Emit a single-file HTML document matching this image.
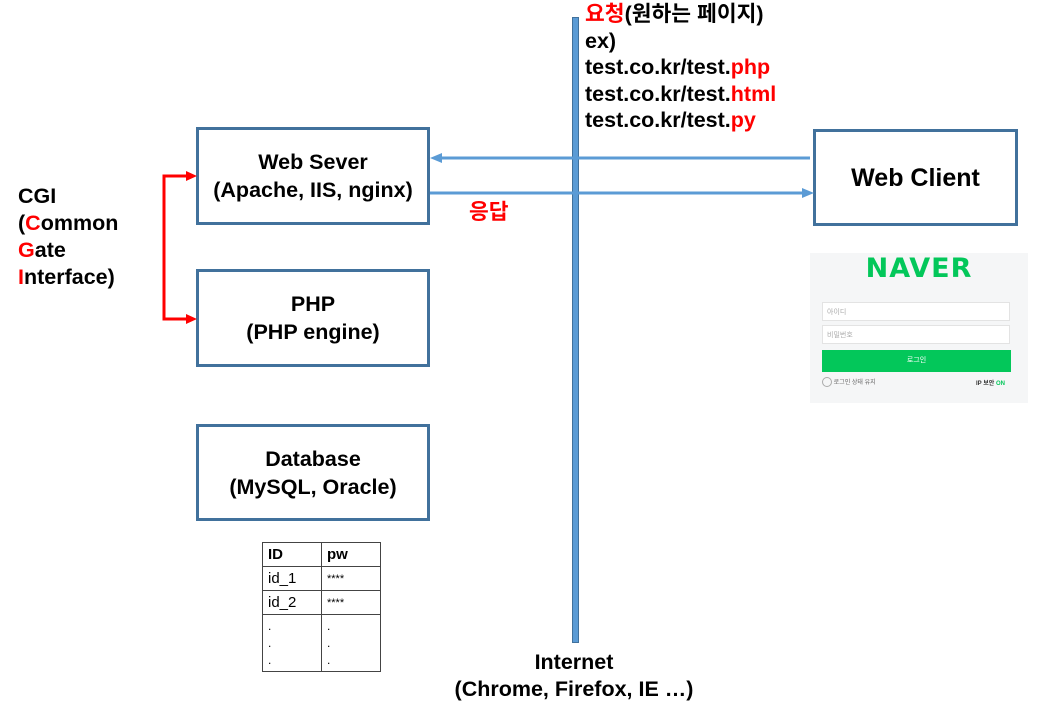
<!DOCTYPE html>
<html><head><meta charset="utf-8"><style>
body{margin:0;width:1059px;height:711px;background:#fff;position:relative;overflow:hidden;font-family:"Liberation Sans","Noto Sans CJK KR",sans-serif}
.box{position:absolute;box-sizing:border-box;border:3px solid #41719c;display:flex;align-items:center;justify-content:center;text-align:center;font-weight:bold;font-size:21.5px;line-height:28px;color:#000}
.t{position:absolute;font-weight:bold;font-size:21.5px;line-height:26.5px;color:#000;white-space:nowrap}
.r{color:#f00}
table{position:absolute;left:262px;top:542px;border-collapse:collapse;font-size:15px}
td{border:1.5px solid #444;padding:0 5px;height:23px;width:48px;vertical-align:middle}
</style></head><body>
<div class="box" style="left:196px;top:127px;width:234px;height:98px">Web Sever<br>(Apache, IIS, nginx)</div>
<div class="box" style="left:196px;top:269px;width:234px;height:98px">PHP<br>(PHP engine)</div>
<div class="box" style="left:196px;top:424px;width:234px;height:97px">Database<br>(MySQL, Oracle)</div>
<div class="box" style="left:813px;top:129px;width:205px;height:97px;font-size:25px">Web Client</div>
<div style="position:absolute;left:572px;top:17px;width:5px;height:624px;background:#5b9bd5;border:1px solid #41719c"></div>
<svg style="position:absolute;left:0;top:0" width="1059" height="711">
<line x1="810" y1="158" x2="440" y2="158" stroke="#5b9bd5" stroke-width="3"/>
<polygon points="430,158 442,153 442,163" fill="#5b9bd5"/>
<line x1="430" y1="193" x2="803" y2="193" stroke="#5b9bd5" stroke-width="3"/>
<polygon points="814,193 802,188 802,198" fill="#5b9bd5"/>
<polyline points="187,176 164,176 164,319 187,319" fill="none" stroke="#f00" stroke-width="3"/>
<polygon points="197,176 186,171 186,181" fill="#f00"/>
<polygon points="197,319 186,314 186,324" fill="#f00"/>
</svg>
<div class="t" style="left:585px;top:1px"><span class="r">요청</span>(원하는 페이지)<br>ex)<br>test.co.kr/test.<span class="r">php</span><br>test.co.kr/test.<span class="r">html</span><br>test.co.kr/test.<span class="r">py</span></div>
<div class="t r" style="left:469px;top:199px">응답</div>
<div class="t" style="left:18px;top:183px;line-height:27px">CGI<br>(<span class="r">C</span>ommon<br><span class="r">G</span>ate<br><span class="r">I</span>nterface)</div>
<div class="t" style="left:434px;top:649px;text-align:center;width:280px">Internet<br>(Chrome, Firefox, IE …)</div>
<div style="position:absolute;left:810px;top:253px;width:218px;height:150px;background:#f5f6f7">
<div style="position:absolute;left:0;width:218px;top:0px;text-align:center;font-weight:900;font-size:27px;color:#03c75a;letter-spacing:1px;font-family:'DejaVu Sans',sans-serif">NAVER</div>
<div style="position:absolute;left:12px;top:49px;width:188px;height:19px;background:#fff;border:1px solid #e3e3e3;font-size:7px;color:#aaa;line-height:19px;padding-left:4px;box-sizing:border-box">아이디</div>
<div style="position:absolute;left:12px;top:72px;width:188px;height:19px;background:#fff;border:1px solid #e3e3e3;font-size:7px;color:#aaa;line-height:19px;padding-left:4px;box-sizing:border-box">비밀번호</div>
<div style="position:absolute;left:12px;top:97px;width:189px;height:22px;background:#03c75a;color:#fff;font-size:7px;text-align:center;line-height:22px">로그인</div>
<div style="position:absolute;left:12px;top:124px;font-size:6px;color:#666"><span style="display:inline-block;width:8px;height:8px;border:1px solid #aaa;border-radius:50%;vertical-align:middle"></span> 로그인 상태 유지</div>
<div style="position:absolute;left:166px;top:125px;font-size:6px;color:#333;font-weight:bold">IP 보안 <span style="color:#03c75a">ON</span></div>
</div>
<table>
<tr><td style="font-weight:bold">ID</td><td style="font-weight:bold">pw</td></tr>
<tr><td>id_1</td><td style="font-size:11px">****</td></tr>
<tr><td>id_2</td><td style="font-size:11px">****</td></tr>
<tr><td style="height:56px;line-height:17px;font-size:12px">.<br>.<br>.</td><td style="line-height:17px;font-size:12px">.<br>.<br>.</td></tr>
</table>
</body></html>
